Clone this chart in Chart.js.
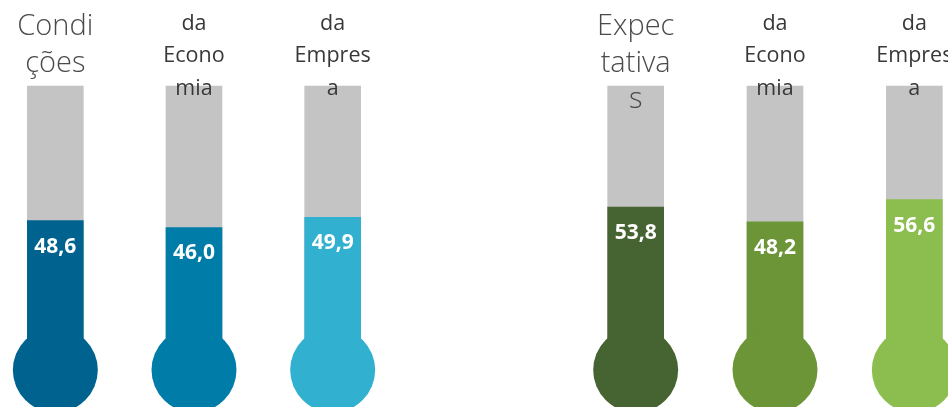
<!DOCTYPE html>
<html>
<head>
<meta charset="utf-8">
<script src="https://cdn.jsdelivr.net/npm/chart.js@4/dist/chart.umd.min.js"></script>
<style>
  html, body { margin:0; padding:0; background:#ffffff; }
  body { width:948px; height:407px; overflow:hidden; position:relative; }
  canvas { position:absolute; top:0; }
  #left { left:-14px; }
  #right { left:566px; }
</style>
</head>
<body>
<canvas id="left" width="416" height="407"></canvas>
<canvas id="right" width="418" height="407"></canvas>
<script>
// ---- data ----
const categoriesLeft  = [["Condi", "ções"], ["da", "Econo", "mia"], ["da", "Empres", "a"]];
const categoriesRight = [["Expec", "tativa", "s"], ["da", "Econo", "mia"], ["da", "Empres", "a"]];
const valuesLeft  = [48.6, 46.0, 49.9];
const valuesRight = [53.8, 48.2, 56.6];
const scaleMax = 100;

// ---- styles ----
const colorsLeft  = ["#00638F", "#007CA9", "#32B0CF"];
const colorsRight = ["#466332", "#6B9537", "#8BBD4F"];
const greyColor = "#C4C4C4";
const BULB_VALUE = -8.4;   // bulb centre on the value scale
const BULB_R = 42.5;
const Y_MIN = -22.5, Y_MAX = 132.8;

const thermoPlugin = {
  id: 'thermo',
  afterDatasetsDraw(chart) {
    const ctx = chart.ctx;
    const y = chart.scales.y;
    const meta = chart.getDatasetMeta(0);
    const ds = chart.data.datasets[0];
    const cats = chart.data.labels;
    ctx.save();
    meta.data.forEach((bar, i) => {
      // bulb
      ctx.fillStyle = ds.backgroundColor[i];
      ctx.beginPath();
      ctx.arc(bar.x, y.getPixelForValue(BULB_VALUE), BULB_R, 0, Math.PI * 2);
      ctx.fill();
      // value label
      const v = ds.data[i][1];
      ctx.fillStyle = '#ffffff';
      ctx.font = 'bold 21px "Open Sans", sans-serif';
      ctx.textAlign = 'center';
      ctx.textBaseline = 'middle';
      ctx.fillText(v.toFixed(1).replace('.', ','), bar.x, y.getPixelForValue(v) + 26);
      // category text
      const lines = cats[i];
      ctx.textBaseline = 'alphabetic';
      if (i === 0) {
        ctx.fillStyle = '#4a4a4a';
        ctx.font = '300 29px "Open Sans", sans-serif';
        lines.forEach((t, k) => ctx.fillText(t, bar.x, 35 + k * 36.5));
      } else {
        ctx.fillStyle = '#383838';
        ctx.font = '21.5px "Open Sans", sans-serif';
        lines.forEach((t, k) => ctx.fillText(t, bar.x, 29.5 + k * 32.5));
      }
    });
    ctx.restore();
  }
};

function makeChart(id, labels, values, colors) {
  return new Chart(document.getElementById(id), {
    type: 'bar',
    data: {
      labels: labels,
      datasets: [
        {
          data: values.map(v => [BULB_VALUE, v]),
          backgroundColor: colors,
          grouped: false,
          barThickness: 56,
          borderWidth: 0
        },
        {
          data: values.map(() => [BULB_VALUE, scaleMax]),
          backgroundColor: greyColor,
          grouped: false,
          barThickness: 56,
          borderWidth: 0
        }
      ]
    },
    options: {
      responsive: false,
      animation: false,
      layout: { padding: 0 },
      plugins: { legend: { display: false }, tooltip: { enabled: false } },
      scales: {
        x: { display: false, offset: true },
        y: { display: false, min: Y_MIN, max: Y_MAX }
      }
    },
    plugins: [thermoPlugin]
  });
}

makeChart('left', categoriesLeft, valuesLeft, colorsLeft);
makeChart('right', categoriesRight, valuesRight, colorsRight);
</script>
</body>
</html>
